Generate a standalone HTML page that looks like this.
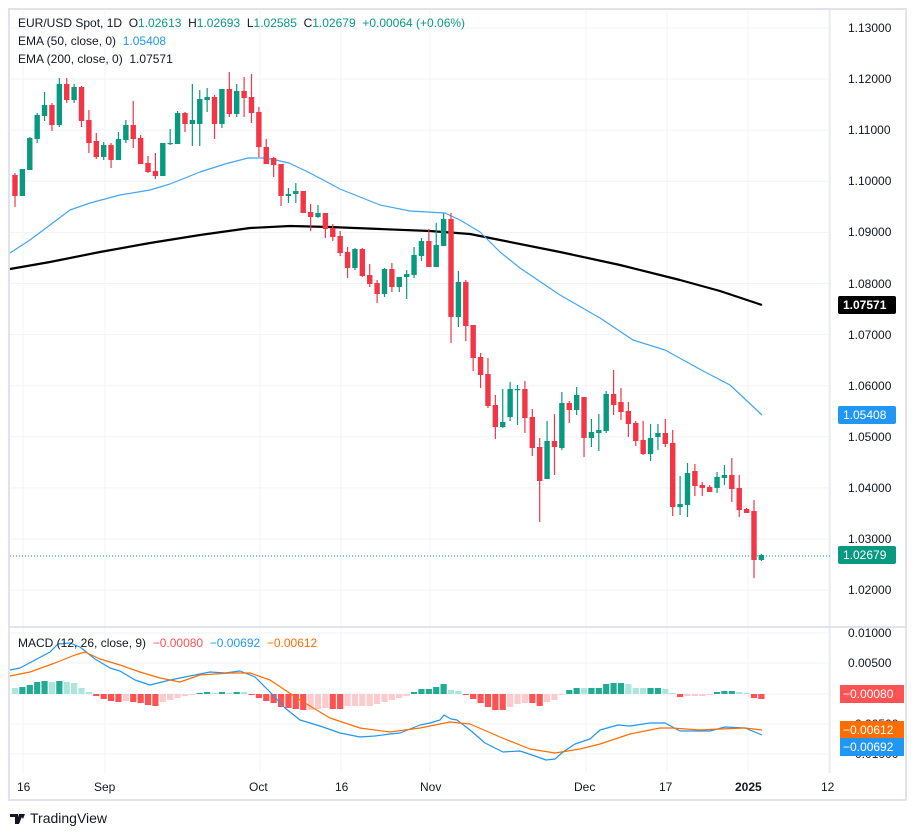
<!DOCTYPE html>
<html><head><meta charset="utf-8">
<style>
html,body{margin:0;padding:0;background:#fff;}
body{width:916px;height:836px;overflow:hidden;position:relative;font-family:"Liberation Sans",sans-serif;}
svg{position:absolute;left:0;top:0;}
text{white-space:pre;}
</style></head>
<body>
<svg id="c" width="916" height="836" viewBox="0 0 916 836" xmlns="http://www.w3.org/2000/svg" font-family="Liberation Sans, sans-serif">
<rect x="9" y="9" width="897" height="791" fill="#fff" stroke="#e0e3eb" stroke-width="2"/>
<g id="grid" stroke="#f0f3fa" stroke-width="1"></g>
<line x1="830" y1="9" x2="830" y2="773" stroke="#e0e3eb"/>
<line x1="9" y1="627" x2="906" y2="627" stroke="#e0e3eb" stroke-width="2"/>
<g id="hist"></g>
<g id="lines"></g>
<g id="candles"></g>
<line x1="10" y1="556" x2="830" y2="556" stroke="#089981" stroke-dasharray="1,2"/>
<g font-size="12" fill="#131722">
<text x="848" y="32">1.13000</text><text x="848" y="83">1.12000</text><text x="848" y="134">1.11000</text>
<text x="848" y="185">1.10000</text><text x="848" y="236">1.09000</text><text x="848" y="288">1.08000</text>
<text x="848" y="339">1.07000</text><text x="848" y="390">1.06000</text><text x="848" y="441">1.05000</text>
<text x="848" y="492">1.04000</text><text x="848" y="543">1.03000</text><text x="848" y="594">1.02000</text>
<text x="848" y="637">0.01000</text><text x="848" y="667">0.00500</text><text x="848" y="728">−0.00500</text><text x="848" y="758">−0.01000</text>
</g>
<rect x="838" y="296" width="58" height="18" rx="2" fill="#000"/><text x="843" y="309" font-size="12" fill="#fff" font-weight="bold">1.07571</text>
<rect x="838" y="406" width="58" height="18" rx="2" fill="#2196f3"/><text x="843" y="419" font-size="12" fill="#fff">1.05408</text>
<rect x="838" y="546" width="58" height="18" rx="2" fill="#089981"/><text x="843" y="559" font-size="12" fill="#fff">1.02679</text>
<rect x="840" y="685" width="64" height="18" fill="#ff5252"/><text x="843" y="698" font-size="12" fill="#fff">−0.00080</text>
<rect x="840" y="721" width="64" height="18" fill="#ff6d00"/><text x="843" y="734" font-size="12" fill="#fff">−0.00612</text>
<rect x="840" y="738" width="64" height="18" fill="#2196f3"/><text x="843" y="751" font-size="12" fill="#fff">−0.00692</text>
<g font-size="12" fill="#131722">
<text x="17" y="791">16</text><text x="94" y="791">Sep</text><text x="249" y="791">Oct</text><text x="335" y="791">16</text>
<text x="420" y="791">Nov</text><text x="574" y="791">Dec</text><text x="659" y="791">17</text>
<text x="735" y="791" font-weight="bold">2025</text><text x="821" y="791">12</text>
</g>
<g font-size="12">
<text x="18" y="27" fill="#131722">EUR/USD Spot, 1D  O<tspan fill="#089981">1.02613</tspan>  H<tspan fill="#089981">1.02693</tspan>  L<tspan fill="#089981">1.02585</tspan>  C<tspan fill="#089981">1.02679</tspan>  <tspan fill="#089981">+0.00064 (+0.06%)</tspan></text>
<text x="18" y="45" fill="#131722">EMA (50, close, 0)  <tspan fill="#2196f3">1.05408</tspan></text>
<text x="18" y="63" fill="#131722">EMA (200, close, 0)  1.07571</text>
<text x="18" y="647" fill="#131722">MACD (12, 26, close, 9)  <tspan fill="#ff5252">−0.00080</tspan>  <tspan fill="#2196f3">−0.00692</tspan>  <tspan fill="#ff6d00">−0.00612</tspan></text>
</g>
<g transform="translate(10,812)"><path d="M0 2h8v10h-3v-7h-5z M9 2h4l-4 10h-3z M10 2h5l-2 5z" fill="#131722"/></g>
<text x="30" y="823" font-size="14" fill="#131722">TradingView</text>
</svg>
<script>
var NS="http://www.w3.org/2000/svg";
function el(p,t,a){var e=document.createElementNS(NS,t);for(var k in a)e.setAttribute(k,a[k]);p.appendChild(e);return e;}
var g=document.getElementById('grid');
for(var k=0;k<12;k++){var y=28+51.1*k;el(g,'line',{x1:10,x2:830,y1:y,y2:y});}
[633,663,694,724,754].forEach(function(y){el(g,'line',{x1:10,x2:830,y1:y,y2:y});});
[23,105,260,341,430,586,667,748,829].forEach(function(x){el(g,'line',{x1:x,x2:x,y1:10,y2:773});});
var C=[
['r',175,196,173,207],['g',169,196,169,196],['g',138,170,137,170],['g',115,139,113,143],['g',105,116,92,121],['r',105,125,103,131],['g',84,125,78,127],['r',84,100,78,103],['g',87,100,84,103],['r',87,121,86,127],
['r',120,143,110,153],['r',141,157,133,159],['g',145,157,142,160],['r',145,160,143,168],['g',139,160,132,160],['g',125,140,120,143],['r',125,139,101,148],['r',138,164,135,164],['r',163,172,156,173],['r',171,176,153,179],
['g',143,176,143,176],['g',143,144,129,145],['g',113,144,111,144],['r',113,124,112,132],['g',120,124,84,146],['g',99,124,90,146],['g',97,100,88,112],['r',97,124,95,139],['g',89,124,89,128],['r',89,114,72,117],
['g',91,114,84,117],['r',91,98,77,117],['r',97,113,74,123],['r',112,147,107,157],['r',147,164,139,164],['r',158,165,157,177],['r',164,196,164,206],['g',194,196,188,203],['g',191,194,183,203],['r',191,213,191,213],
['r',212,217,204,231],['g',213,217,205,218],['r',213,229,213,238],['r',228,237,224,241],['r',236,253,231,256],['r',252,268,247,278],['g',249,268,248,270],['r',249,276,248,277],['r',275,284,264,287],['r',283,294,280,303],
['g',269,294,268,297],['r',269,287,263,292],['g',277,287,277,292],['g',274,277,270,299],['g',255,275,247,278],['g',241,256,238,261],['r',241,267,229,267],['g',245,267,223,267],['g',219,246,213,246],['r',219,317,213,343],
['g',282,317,271,327],['r',282,326,280,341],['r',325,358,325,371],['r',357,375,353,388],['r',374,406,358,408],['r',405,427,395,439],['g',422,427,389,428],['g',389,417,382,421],['g',389,390,385,425],['r',389,418,381,433],
['r',417,448,409,456],['r',447,481,438,522],['g',441,479,421,479],['r',441,447,414,475],['g',403,448,392,450],['r',403,410,401,423],['g',395,410,387,415],['r',397,438,397,457],['g',432,438,419,447],['g',430,433,414,451],
['g',394,431,391,433],['r',394,405,370,415],['r',402,412,388,420],['r',411,424,402,437],['r',423,441,421,446],['r',440,454,421,455],['g',438,454,424,461],['g',433,437,424,450],['r',433,444,419,447],['r',443,507,430,516],
['g',504,507,476,515],['g',473,505,463,517],['r',471,486,464,496],['r',485,488,482,496],['r',487,492,485,492],['g',477,488,472,493],['g',475,478,465,485],['r',475,489,458,502],['r',488,510,475,517],['r',509,513,508,513],
['r',511,560,500,578],['g',555,560,554,561]];
var cg=document.getElementById('candles');
C.forEach(function(c,i){var x=15+7.39*i,col=c[0]=='g'?'#089981':'#f23645';
el(cg,'line',{x1:x,x2:x,y1:c[3],y2:c[4],stroke:col,'stroke-width':1.2});
el(cg,'rect',{x:x-2.7,y:c[1],width:5.4,height:Math.max(1.2,c[2]-c[1]),fill:col});});
var H=[[6,'lg'],[7,'g'],[9,'g'],[12,'g'],[13,'g'],[12,'lg'],[13,'g'],[12,'lg'],[11,'lg'],[6,'lg'],[2,'lg'],
[-2,'r'],[-5,'r'],[-7,'r'],[-8,'r'],[-7,'lr'],[-8,'r'],[-9,'r'],[-11,'r'],[-12,'r'],[-8,'lr'],[-6,'lr'],[-4,'lr'],[-2,'lr'],[-1,'lr'],
[1,'g'],[2,'g'],[1,'lg'],[2,'g'],[1,'lg'],[2,'g'],[2,'lg'],[-1,'r'],
[-4,'r'],[-7,'r'],[-9,'r'],[-13,'r'],[-14,'r'],[-15,'r'],[-16,'r'],[-16,'lr'],[-15,'lr'],[-14,'lr'],[-15,'r'],[-15,'r'],[-12,'lr'],[-12,'lr'],[-12,'lr'],[-12,'lr'],[-10,'lr'],[-8,'lr'],[-6,'lr'],[-4,'lr'],[-2,'lr'],
[2,'g'],[5,'g'],[5,'g'],[7,'g'],[10,'g'],[4,'lg'],[3,'lg'],[-1,'r'],[-5,'r'],[-9,'r'],[-13,'r'],[-16,'r'],[-16,'r'],[-13,'lr'],[-10,'lr'],[-9,'lr'],[-9,'r'],[-12,'r'],[-8,'lr'],[-6,'lr'],[-1,'lr'],
[4,'g'],[6,'g'],[6,'lg'],[6,'g'],[6,'g'],[10,'g'],[11,'g'],[11,'g'],[10,'lg'],[6,'lg'],[6,'lg'],[6,'g'],[6,'g'],[5,'lg'],[1,'lg'],[-3,'r'],[-2,'lr'],[-2,'lr'],[-2,'lr'],[-1,'lr'],[2,'g'],[3,'g'],[3,'g'],[2,'lg'],[1,'lg'],[-4,'r'],[-5,'r']];
var cols={g:'#22ab94',lg:'#ace5dc',r:'#ff5252',lr:'#fccbcd'};
var hg=document.getElementById('hist');
H.forEach(function(h,i){var x=15+7.39*i,v=h[0];
el(hg,'rect',{x:x-3.1,y:v>0?694-v:694,width:6.2,height:Math.max(1,Math.abs(v)),fill:cols[h[1]]});});
var lg=document.getElementById('lines');
function pl(pts,col,w){el(lg,'polyline',{points:pts.map(function(p){return p.join(',')}).join(' '),fill:'none',stroke:col,'stroke-width':w,'stroke-linejoin':'round'});}
pl([[10,269],[50,262],[100,252],[150,243],[200,235],[250,228],[290,226],[330,227],[380,229],[430,231],[470,234],[500,240],[560,252],[620,265],[680,280],[720,291],[762,305]],'#000',2.2);
pl([[10,253],[30,240],[50,225],[70,210],[90,203],[120,195],[150,190],[170,184],[200,172],[225,164],[248,158],[265,158],[280,161],[289,163],[310,173],[340,189],[380,205],[410,211],[445,213],[460,220],[480,232],[500,252],[520,268],[560,295],[600,318],[633,340],[665,350],[705,372],[730,385],[762,415]],'#42a5f5',1.2);
pl([[10,670],[20,668],[35,660],[50,652],[58,644],[70,643],[80,647],[95,659],[110,668],[120,671],[135,680],[150,685],[170,680],[190,676],[210,672],[225,673],[240,671],[255,677],[270,692],[285,708],[300,720],[320,726],[340,733],[360,737],[375,736],[390,734],[400,733],[410,729],[420,725],[430,723],[440,720],[444,715],[451,719],[457,720],[470,730],[485,743],[503,752],[520,751],[535,756],[546,760],[555,759],[563,752],[575,744],[590,739],[600,730],[618,725],[630,726],[650,723],[665,723],[680,731],[700,731],[710,731],[725,727],[745,728],[762,735]],'#2196f3',1.2);
pl([[10,676],[30,672],[55,663],[75,655],[85,652],[100,659],[120,665],[140,672],[160,678],[180,682],[200,675],[230,673],[250,673],[270,680],[300,700],[330,718],[360,728],[390,732],[420,728],[430,726],[450,722],[470,724],[500,737],[530,749],[555,753],[580,749],[600,744],[630,734],[660,728],[672,728],[700,730],[720,729],[745,728],[762,730]],'#ff6d00',1.2);
</script>
</body></html>
